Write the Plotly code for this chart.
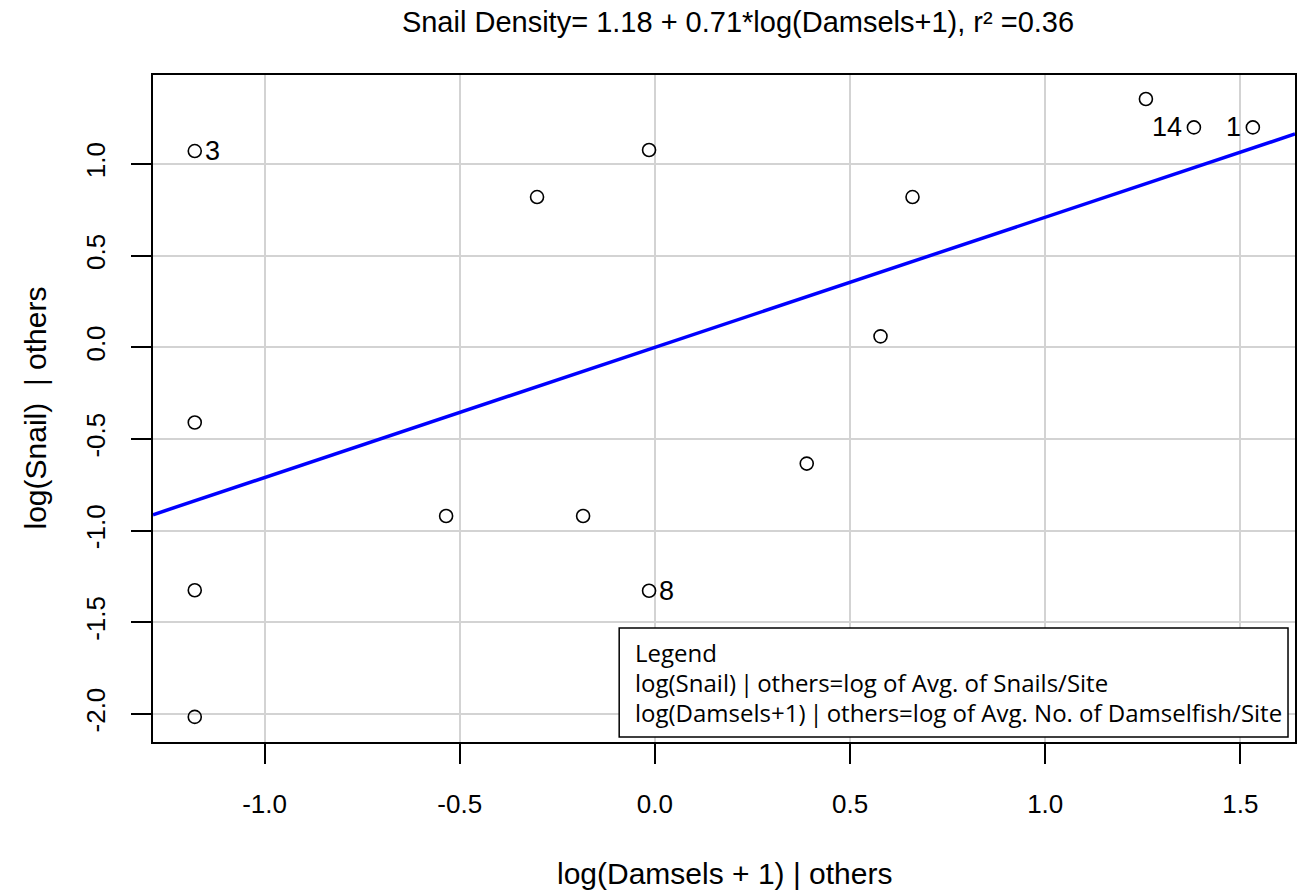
import plotly.graph_objects as go

# Added-variable plot: snail density vs damselfish abundance (partial residuals)
damsels_resid = [-1.179, -1.179, -1.179, -1.179, -0.535, -0.302, -0.184, -0.015,
                 -0.015, 0.389, 0.578, 0.660, 1.258, 1.381, 1.532]
snail_resid = [1.071, -0.410, -1.325, -2.016, -0.920, 0.820, -0.920, 1.077,
               -1.328, -0.634, 0.060, 0.820, 1.355, 1.200, 1.200]
point_labels = ["3", "", "", "", "", "", "", "", "8", "", "", "", "", "14", "1"]
label_side = ["right", "", "", "", "", "", "", "", "right", "", "", "", "", "left", "left"]

slope = 0.71
intercept = 0.0
x_range = [-1.286, 1.64]
y_range = [-2.153, 1.486]
x_ticks = [-1.0, -0.5, 0.0, 0.5, 1.0, 1.5]
y_ticks = [-2.0, -1.5, -1.0, -0.5, 0.0, 0.5, 1.0]

title_text = "Snail Density= 1.18 + 0.71*log(Damsels+1), r² =0.36"
x_title = "log(Damsels + 1) | others"
y_title = "log(Snail)\u00a0\u00a0| others"
legend_lines = ["Legend",
                "log(Snail)\u2009|\u2009others=log of Avg. of Snails/Site",
                "log(Damsels+1)\u2009|\u2009others=log of Avg. No. of Damselfish/Site"]

fig = go.Figure()

fig.add_trace(go.Scatter(
    x=x_range,
    y=[intercept + slope * v for v in x_range],
    mode="lines",
    line=dict(color="#0000ff", width=3.5),
    hoverinfo="skip",
    showlegend=False,
))

fig.add_trace(go.Scatter(
    x=damsels_resid,
    y=snail_resid,
    mode="markers",
    marker=dict(symbol="circle-open", size=13, color="black", line=dict(width=1.6)),
    showlegend=False,
))

for x, y, lab, side in zip(damsels_resid, snail_resid, point_labels, label_side):
    if not lab:
        continue
    fig.add_annotation(
        x=x, y=y, text=lab, showarrow=False,
        xanchor="left" if side == "right" else "right",
        xshift=8 if side == "right" else -10,
        font=dict(family="Liberation Sans, Arial", size=27, color="black"),
    )

# Explanatory text box in the lower right of the plot
fig.add_shape(type="rect", xref="paper", yref="paper",
              x0=(620 - 153) / 1144, x1=(1290 - 153) / 1144,
              y0=(742 - 737) / 667, y1=(742 - 628) / 667,
              line=dict(color="black", width=1.5), fillcolor="white", layer="above")
for i, line in enumerate(legend_lines):
    fig.add_annotation(
        xref="paper", yref="paper",
        x=(634 - 153) / 1144, y=(742 - (652 + 30 * i)) / 667,
        text=line, showarrow=False, xanchor="left", yanchor="middle",
        font=dict(family="Open Sans, Noto Sans, sans-serif", size=24, color="black"),
    )

# Axis titles
fig.add_annotation(xref="paper", yref="paper", x=0.5, y=0, yshift=-131,
                   text=x_title, showarrow=False, yanchor="middle",
                   font=dict(family="Liberation Sans, Arial", size=30, color="black"))
fig.add_annotation(xref="paper", yref="paper", x=0, xshift=-118, y=0.5,
                   text=y_title, showarrow=False, textangle=-90, xanchor="center",
                   font=dict(family="Liberation Sans, Arial", size=30, color="black"))

axis_font = dict(family="Liberation Sans, Arial", size=26, color="black")
fig.update_xaxes(
    range=x_range, tickvals=x_ticks, ticktext=[f"{v:.1f}" for v in x_ticks],
    showgrid=True, gridcolor="#d3d3d3", gridwidth=1.5, zeroline=False,
    ticks="outside", ticklen=20, tickwidth=1.5, tickcolor="black",
    ticklabelstandoff=18, tickfont=axis_font,
    showline=True, linecolor="black", linewidth=1.8, mirror=True,
)
fig.update_yaxes(
    range=y_range, tickvals=y_ticks, ticktext=[f"{v:.1f}" for v in y_ticks],
    showgrid=True, gridcolor="#d3d3d3", gridwidth=1.5, zeroline=False,
    ticks="outside", ticklen=20, tickwidth=1.5, tickcolor="black",
    tickangle=-90, ticklabelstandoff=16, tickfont=axis_font,
    showline=True, linecolor="black", linewidth=1.8, mirror=True,
)

fig.update_layout(
    width=1300, height=894,
    margin=dict(l=153, r=3, t=75, b=152),
    paper_bgcolor="white", plot_bgcolor="white",
    title=dict(text=title_text, x=738 / 1300, xanchor="center", y=1 - 22 / 894,
               yanchor="middle",
               font=dict(family="Liberation Sans, Arial", size=29, color="black")),
)

fig.write_html("out.html")
